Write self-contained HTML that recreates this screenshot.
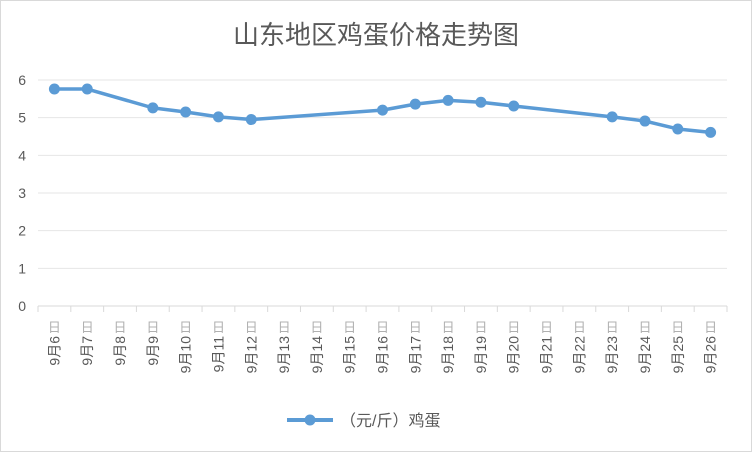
<!DOCTYPE html>
<html><head><meta charset="utf-8"><style>
body{margin:0;background:#fff}
svg{display:block;font-family:"Liberation Sans","Noto Sans CJK SC",sans-serif}
</style></head><body>
<svg width="752" height="452">
<rect x="0.5" y="0.5" width="751" height="451" fill="#fff" stroke="#d9d9d9"/>
<text x="376" y="44" text-anchor="middle" font-size="26" fill="#595959">山东地区鸡蛋价格走势图</text>
<g id="grid"></g><g id="xaxis"></g><g id="series"></g>
<g>
<line x1="287" y1="420" x2="333" y2="420" stroke="#5b9bd5" stroke-width="4"/>
<circle cx="310" cy="420" r="5.5" fill="#5b9bd5"/>
<text x="340" y="426" font-size="16" fill="#595959">（元/斤）鸡蛋</text>
</g>
</svg>
<script>
const categories=["9月6日","9月7日","9月8日","9月9日","9月10日","9月11日","9月12日","9月13日","9月14日","9月15日","9月16日","9月17日","9月18日","9月19日","9月20日","9月21日","9月22日","9月23日","9月24日","9月25日","9月26日"];
const values=[5.76,5.76,null,5.26,5.15,5.02,4.95,null,null,null,5.2,5.36,5.46,5.41,5.31,null,null,5.02,4.91,4.7,4.61];
const yTicks=[0,1,2,3,4,5,6];
const NS="http://www.w3.org/2000/svg";
const X0=38,X1=727,Y0=306,Y1=80,YMAX=6;
const bw=(X1-X0)/categories.length;
const xs=i=>X0+bw*(i+0.5);
const ys=v=>Y0-(v/YMAX)*(Y0-Y1);
function mk(t,a,p){const e=document.createElementNS(NS,t);for(const k in a)e.setAttribute(k,a[k]);p.appendChild(e);return e;}
const grid=document.getElementById('grid');
yTicks.forEach(t=>{
  const l=mk('line',{x1:X0,x2:X1,y1:ys(t),y2:ys(t),stroke:t===0?'#d9d9d9':'#e6e6e6','stroke-width':1},grid);
  
  
  const tx=mk('text',{x:26,y:ys(t)+5,'text-anchor':'end','font-size':14,fill:'#595959'},grid);
  tx.textContent=t;
  
  
});
const xa=document.getElementById('xaxis');
for(let i=0;i<=categories.length;i++){
  const x=X0+bw*i;
  const tk=mk('line',{x1:x,x2:x,y1:Y0,y2:Y0+6,stroke:'#d9d9d9'},xa);
  
  
}
categories.forEach((c,i)=>{
  const x=xs(i);
  const g=mk('g',{},xa);
  
  
  const d=mk('text',{x:x,y:332,'text-anchor':'middle','font-size':13,fill:'#b0b0b0'},g);
  d.textContent=c.slice(-1);
  const t=mk('text',{x:0,y:0,'text-anchor':'end','font-size':14,fill:'#595959',transform:`translate(${x+5},336) rotate(-90)`},g);
  t.textContent=c.slice(0,-1);
});
const s=document.getElementById('series');
const pts=[];values.forEach((v,i)=>{if(v!=null)pts.push([xs(i),ys(v)]);});
const pl=mk('polyline',{points:pts.map(p=>p.join(',')).join(' '),fill:'none',stroke:'#5b9bd5','stroke-width':3.5,'stroke-linejoin':'round'},s);


values.forEach((v,i)=>{if(v==null)return;
  const c=mk('circle',{cx:xs(i),cy:ys(v),r:5.5,fill:'#5b9bd5'},s);
  
  
});
</script>
</body></html>
